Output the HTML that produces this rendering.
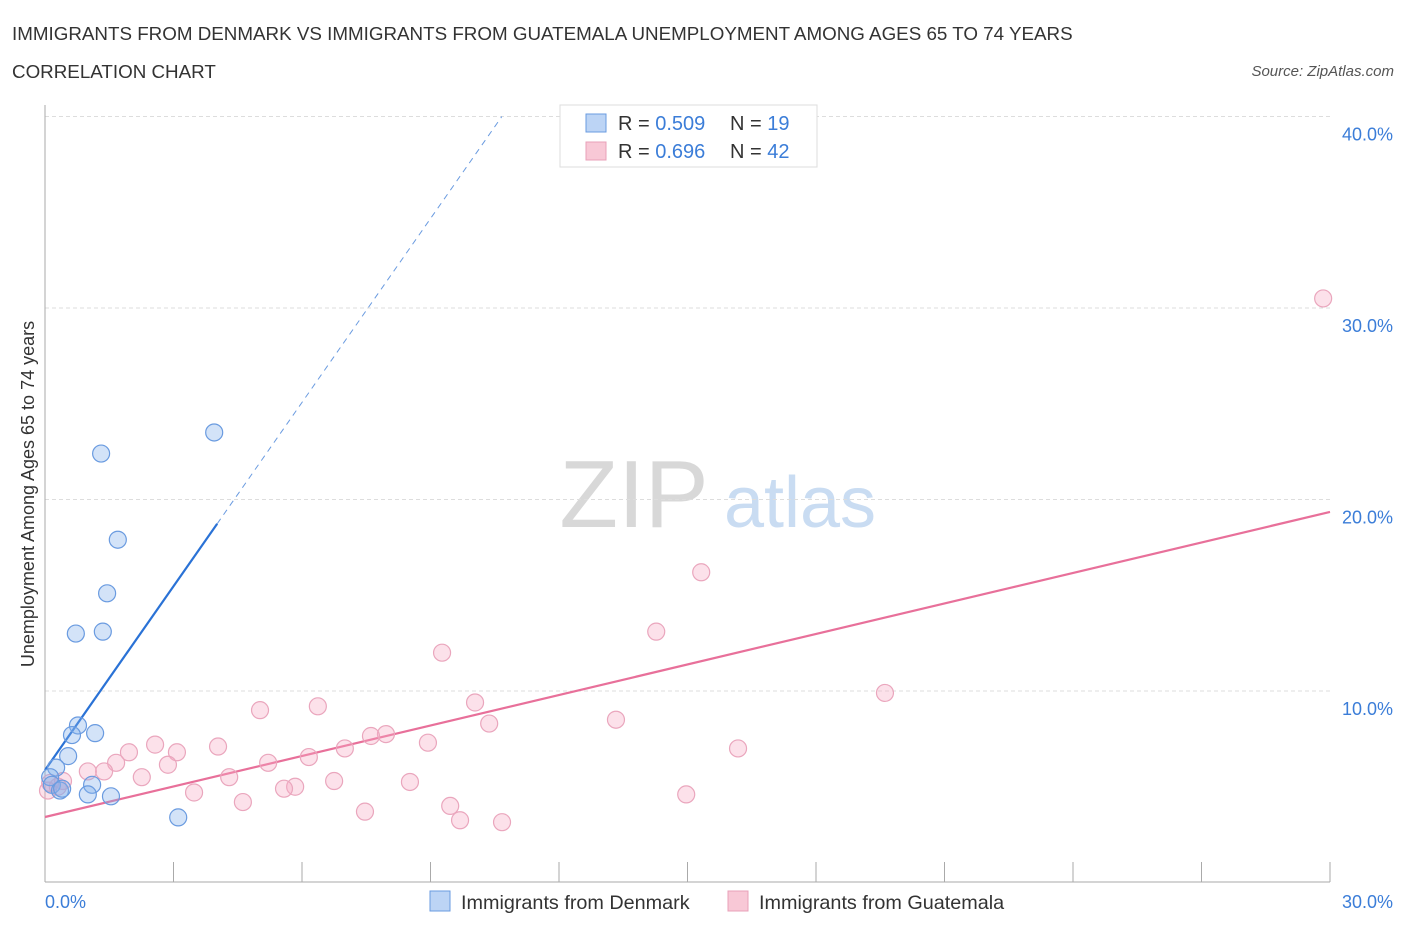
<!DOCTYPE html>
<html><head><meta charset="utf-8"><style>
body{margin:0;background:#fff;font-family:"Liberation Sans",sans-serif;}
svg text{font-family:"Liberation Sans",sans-serif;}
</style></head><body>
<svg id="chart" width="1406" height="930" xmlns="http://www.w3.org/2000/svg">
<text x="12" y="40" font-size="18.8" fill="#333">IMMIGRANTS FROM DENMARK VS IMMIGRANTS FROM GUATEMALA UNEMPLOYMENT AMONG AGES 65 TO 74 YEARS</text>
<text x="12" y="78" font-size="18.8" fill="#333">CORRELATION CHART</text>
<text x="1394" y="76" font-size="15" fill="#555" font-style="italic" text-anchor="end">Source: ZipAtlas.com</text>
<g>
<text x="634" y="527" font-size="96" font-family="Liberation Serif,serif" fill="#d8d8d8" text-anchor="middle">ZIP</text>
<text x="800" y="527" font-size="72" fill="#c9dcf2" text-anchor="middle">atlas</text>
</g>
<g id="grid"></g>
<g id="axes"></g>
<g id="lines"></g>
<g id="pts"></g>
<text transform="translate(34,494) rotate(-90)" font-size="18" fill="#333" text-anchor="middle">Unemployment Among Ages 65 to 74 years</text>
<text x="45" y="908" font-size="18" fill="#3b7dd8">0.0%</text>
<text x="1393" y="908" font-size="18" fill="#3b7dd8" text-anchor="end">30.0%</text>
<g>
<rect x="560" y="105" width="257" height="62" fill="#fff" stroke="#ddd"/>
<rect x="586" y="114" width="20" height="18" fill="#bcd4f5" stroke="#6a9be0"/>
<rect x="586" y="142" width="20" height="18" fill="#f8c8d6" stroke="#e8a0b8"/>
<text x="618" y="130" font-size="20" fill="#333">R = <tspan fill="#3b7dd8">0.509</tspan></text>
<text x="730" y="130" font-size="20" fill="#333">N = <tspan fill="#3b7dd8"> 19</tspan></text>
<text x="618" y="158" font-size="20" fill="#333">R = <tspan fill="#3b7dd8"> 0.696</tspan></text>
<text x="730" y="158" font-size="20" fill="#333">N = <tspan fill="#3b7dd8">42</tspan></text>
</g>
<g>
<rect x="430" y="891" width="20" height="20" fill="#bcd4f5" stroke="#6a9be0"/>
<text x="461" y="909" font-size="19.8" fill="#333">Immigrants from Denmark</text>
<rect x="728" y="891" width="20" height="20" fill="#f8c8d6" stroke="#e8a0b8"/>
<text x="759" y="909" font-size="19.8" fill="#333">Immigrants from Guatemala</text>
</g>
</svg>
<script>
const yTicks=[10,20,30,40];
const xTickCount=11;
const blueX=[3.95,1.31,1.70,1.45,0.72,1.35,0.77,0.63,1.17,0.54,0.26,0.12,0.16,0.35,0.40,1.10,1.00,1.54,3.11];
const blueY=[23.5,22.4,17.9,15.1,13.0,13.1,8.2,7.7,7.8,6.6,6.0,5.5,5.1,4.8,4.9,5.1,4.6,4.5,3.4];
const pinkX=[29.84,15.32,14.27,9.27,19.61,10.04,6.37,5.02,13.33,10.37,7.96,7.61,2.57,8.94,16.18,1.96,3.08,7.00,4.04,6.16,1.66,2.87,5.21,1.38,1.00,4.30,2.26,6.75,8.52,0.42,0.12,5.84,5.58,3.48,14.97,4.62,9.46,7.47,9.69,10.67,0.07,0.30];
const pinkY=[30.5,16.2,13.1,12.0,9.9,9.4,9.2,9.0,8.5,8.3,7.75,7.65,7.2,7.3,7.0,6.8,6.8,7.0,7.1,6.55,6.25,6.15,6.25,5.8,5.8,5.5,5.5,5.3,5.25,5.3,5.2,5.0,4.9,4.7,4.6,4.2,4.0,3.7,3.25,3.15,4.8,5.0];
const blueLine=[5.87,3.2];
const pinkLine=[3.42,0.531];
const NS="http://www.w3.org/2000/svg";
const X=v=>45+v*1285/30;
const Y=v=>882.5-v*19.15;
function mk(tag,attrs,parent){const e=document.createElementNS(NS,tag);for(const k in attrs)e.setAttribute(k,attrs[k]);document.getElementById(parent).appendChild(e);return e;}
yTicks.forEach(t=>{
 const l=mk('line',{x1:45,x2:1330,y1:Y(t),y2:Y(t),stroke:'#ddd','stroke-dasharray':'4,3'},'grid');
 
 
 const tx=mk('text',{x:1393,y:Y(t)+24,'font-size':18,fill:'#3b7dd8','text-anchor':'end'},'grid');
 tx.textContent=t.toFixed(1)+'%';
 
 
});
const ax=mk('line',{x1:45,x2:1330,y1:882,y2:882,stroke:'#aaa'},'axes');


const ay=mk('line',{x1:45,x2:45,y1:105,y2:882,stroke:'#aaa'},'axes');


for(let i=0;i<xTickCount;i++){
 const xx=X(i*3);
 const t=mk('line',{x1:xx,x2:xx,y1:862,y2:882,stroke:'#aaa'},'axes');
 
 
}
const bx1=4.02, bx2=(40-blueLine[0])/blueLine[1];
const bl=mk('line',{x1:X(0),y1:Y(blueLine[0]),x2:X(bx1),y2:Y(blueLine[0]+blueLine[1]*bx1),stroke:'#2a72d6','stroke-width':2.2},'lines');


const bd=mk('line',{x1:X(bx1),y1:Y(blueLine[0]+blueLine[1]*bx1),x2:X(bx2),y2:Y(blueLine[0]+blueLine[1]*bx2),stroke:'#6a9be0','stroke-width':1,'stroke-dasharray':'6,5'},'lines');


const pl=mk('line',{x1:X(0),y1:Y(pinkLine[0]),x2:X(30),y2:Y(pinkLine[0]+pinkLine[1]*30),stroke:'#e8709a','stroke-width':2.2},'lines');


pinkX.forEach((v,i)=>{
 const c=mk('circle',{cx:X(v),cy:Y(pinkY[i]),r:8.5,fill:'rgba(245,170,195,0.35)',stroke:'#eaa6bd','stroke-width':1.2},'pts');
 
 
});
blueX.forEach((v,i)=>{
 const c=mk('circle',{cx:X(v),cy:Y(blueY[i]),r:8.5,fill:'rgba(130,175,235,0.35)',stroke:'#6a9be0','stroke-width':1.2},'pts');
 
 
});
</script>
</body></html>
